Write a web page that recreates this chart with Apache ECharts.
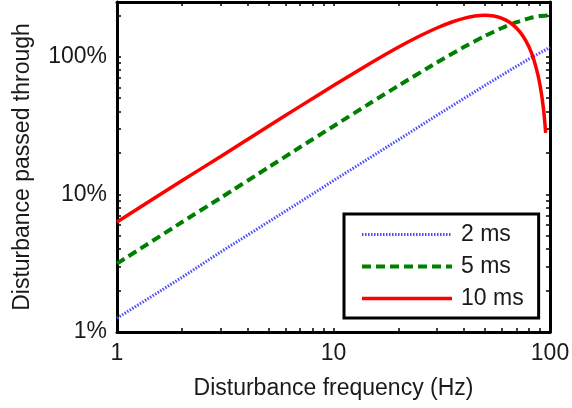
<!DOCTYPE html>
<html>
<head>
<meta charset="utf-8">
<script src="https://cdn.jsdelivr.net/npm/echarts@6/dist/echarts.min.js"></script>
<style>
  html, body { margin: 0; padding: 0; background: #fff; }
  #main { width: 572px; height: 408px; }
</style>
</head>
<body>
<div id="main"></div>
<script>
// values (frequency in Hz, disturbance passed through in %)
var freq2 = [1, 2, 3, 5, 7, 10, 15, 20, 30, 40, 50, 60, 70, 80, 90, 100];
var pass2 = [1.26, 2.5, 3.8, 6.3, 8.8, 12.6, 18.8, 25, 37.5, 49.7, 61.8, 73.6, 85.2, 96.4, 107, 117];

var freq5 = [1, 2, 3, 5, 7, 10, 15, 20, 30, 40, 50, 60, 70, 80, 90, 100];
var pass5 = [3.14, 6.3, 9.4, 15.7, 22, 31.3, 46.7, 61.8, 90.8, 117.6, 141.4, 161.8, 178.2, 190.2, 197.5, 200];

var freq10 = [1, 2, 3, 5, 7, 10, 15, 20, 25, 30, 35, 40, 45, 50, 55, 60, 65, 70, 75, 80, 84, 88, 90, 92, 94, 95.5];
var pass10 = [6.3, 12.6, 18.8, 31.3, 43.6, 61.8, 90.8, 117.6, 141.4, 161.8, 178.2, 190.2, 197.5, 200, 197.5, 190.2, 178.2, 161.8, 141.4, 117.6, 96.4, 73.6, 61.8, 49.7, 37.5, 28];

var xLabels = [1, 10, 100];
var yLabels = [1, 10, 100];
var xTicks = [1, 2, 3, 4, 5, 6, 7, 8, 9, 10, 20, 30, 40, 50, 60, 70, 80, 90, 100];
var yTicks = [1, 2, 3, 4, 5, 6, 7, 8, 9, 10, 20, 30, 40, 50, 60, 70, 80, 90, 100, 200];

function pairs(xs, ys) {
  return xs.map(function (x, i) { return [x, ys[i]]; });
}

var font = 'Liberation Sans, Arial, sans-serif';
var ink = '#1a1a1a';

var style2 = { color: '#4d4dff', width: 3, type: [1.5, 1.5] };
var style5 = { color: '#008000', width: 4, type: [9, 5] };
var style10 = { color: '#ff0000', width: 3.5, type: 'solid' };

function xAxisCfg(pos) {
  var top = pos === 'top';
  return {
    type: 'log', logBase: 10, min: 1, max: 100, position: pos,
    axisLine: { onZero: false, lineStyle: { color: '#000', width: 3 } },
    axisTick: { inside: true, length: 4, customValues: xTicks, lineStyle: { color: '#000', width: 1.5 } },
    axisLabel: top ? { show: false } : {
      customValues: xLabels, margin: 10, fontSize: 23, fontFamily: font, color: ink,
      formatter: function (v) { return String(v); }
    },
    splitLine: { show: false },
    minorTick: { show: false },
    name: top ? '' : 'Disturbance frequency (Hz)',
    nameLocation: 'middle', nameGap: 45,
    nameTextStyle: { fontSize: 23, fontFamily: font, color: ink }
  };
}

function yAxisCfg(pos) {
  var right = pos === 'right';
  return {
    type: 'log', logBase: 10, min: 1, max: 250, position: pos,
    axisLine: { onZero: false, lineStyle: { color: '#000', width: 3 } },
    axisTick: { inside: true, length: 4, customValues: yTicks, lineStyle: { color: '#000', width: 1.5 } },
    axisLabel: right ? { show: false } : {
      customValues: yLabels, margin: 10, fontSize: 23, fontFamily: font, color: ink,
      formatter: function (v) { return v + '%'; }
    },
    splitLine: { show: false },
    minorTick: { show: false },
    name: right ? '' : 'Disturbance passed through',
    nameLocation: 'middle', nameGap: 83,
    nameTextStyle: { fontSize: 23, fontFamily: font, color: ink }
  };
}

var chart = echarts.init(document.getElementById('main'), null, { renderer: 'canvas' });
chart.setOption({
  animation: false,
  backgroundColor: '#fff',
  grid: { left: 117, right: 22, top: 2, bottom: 76, outerBoundsMode: 'none', containLabel: false },
  xAxis: [xAxisCfg('bottom'), xAxisCfg('top')],
  yAxis: [yAxisCfg('left'), yAxisCfg('right')],
  legend: {
    orient: 'vertical',
    left: 344, top: 214,
    padding: [8, 15, 7, 16],
    backgroundColor: '#fff',
    borderColor: '#000',
    borderWidth: 3,
    itemWidth: 90,
    itemHeight: 14,
    itemGap: 7,
    itemStyle: { opacity: 0 },
    textStyle: { fontSize: 23, fontFamily: font, color: ink, lineHeight: 25, padding: [0, 0, 0, 4] },
    data: [
      { name: '2 ms', lineStyle: style2 },
      { name: '5 ms', lineStyle: style5 },
      { name: '10 ms', lineStyle: style10 }
    ]
  },
  series: [
    {
      name: '2 ms', type: 'line', symbol: 'none', xAxisIndex: 0, yAxisIndex: 0,
      data: pairs(freq2, pass2),
      lineStyle: style2,
      itemStyle: { color: style2.color }
    },
    {
      name: '5 ms', type: 'line', symbol: 'none', xAxisIndex: 0, yAxisIndex: 0,
      data: pairs(freq5, pass5), smooth: 0.2,
      lineStyle: style5,
      itemStyle: { color: style5.color }
    },
    {
      name: '10 ms', type: 'line', symbol: 'none', xAxisIndex: 0, yAxisIndex: 0,
      data: pairs(freq10, pass10), smooth: 0.2,
      lineStyle: style10,
      itemStyle: { color: style10.color }
    }
  ]
});
</script>
</body>
</html>
